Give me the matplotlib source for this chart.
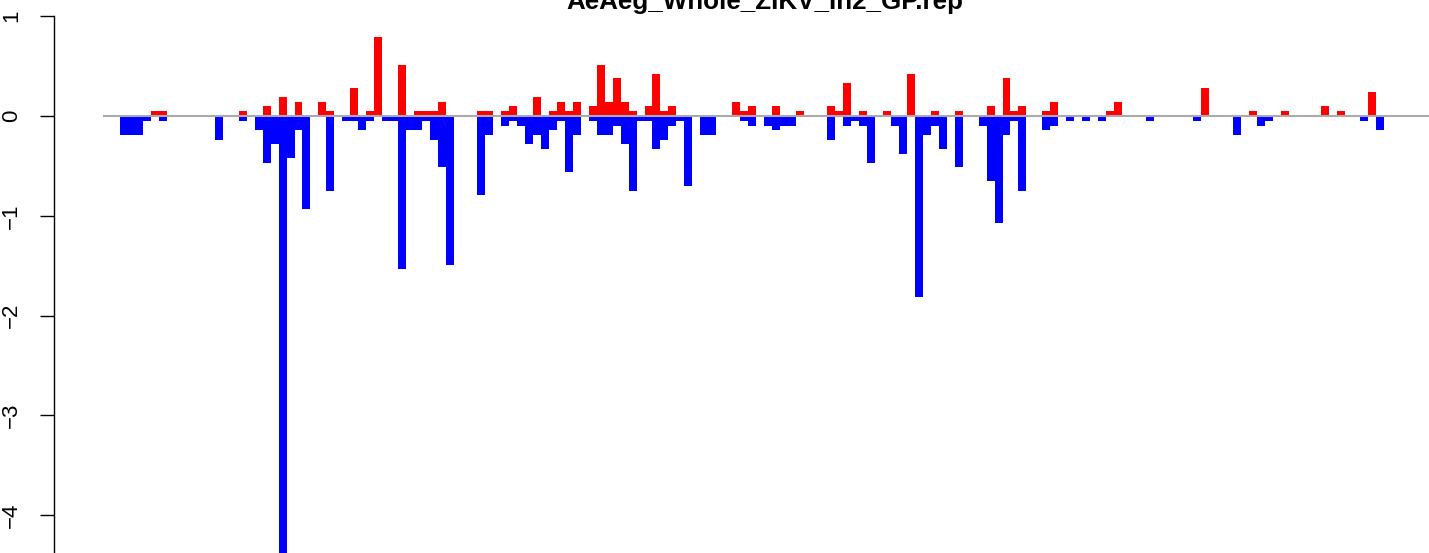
import numpy as np
import matplotlib
matplotlib.use("Agg")
import matplotlib.pyplot as plt

# ── data: one slot per position, up (red) and down (blue) ─────────────────────
title = "AeAeg_Whole_ZIKV_In2_GP.rep"

up = [
    0, 0, 0, 0, 0.05, 0.05, 0, 0, 0, 0,               # 0-9
    0, 0, 0, 0, 0, 0.05, 0, 0, 0.10, 0,               # 10-19
    0.19, 0, 0.14, 0, 0, 0.14, 0.05, 0, 0, 0.28,      # 20-29
    0, 0.05, 0.79, 0, 0, 0.51, 0, 0.05, 0.05, 0.05,   # 30-39
    0.14, 0, 0, 0, 0, 0.05, 0.05, 0, 0.05, 0.10,      # 40-49
    0, 0, 0.19, 0, 0.05, 0.14, 0.05, 0.14, 0, 0.10,   # 50-59
    0.51, 0.14, 0.38, 0.14, 0.05, 0, 0.10, 0.42, 0.05, 0.10,  # 60-69
    0, 0, 0, 0, 0, 0, 0, 0.14, 0.05, 0.10,            # 70-79
    0, 0, 0.10, 0, 0, 0.05, 0, 0, 0, 0.10,            # 80-89
    0.05, 0.33, 0, 0.05, 0, 0, 0.05, 0, 0, 0.42,      # 90-99
    0, 0, 0.05, 0, 0, 0.05, 0, 0, 0, 0.10,            # 100-109
    0, 0.38, 0.05, 0.10, 0, 0, 0.05, 0.14, 0, 0,      # 110-119
    0, 0, 0, 0, 0.05, 0.14, 0, 0, 0, 0,               # 120-129
    0, 0, 0, 0, 0, 0, 0.28, 0, 0, 0,                  # 130-139
    0, 0, 0.05, 0, 0, 0, 0.05, 0, 0, 0,               # 140-149
    0, 0.10, 0, 0.05, 0, 0, 0, 0.24, 0,               # 150-158
]

down = [
    -0.19, -0.19, -0.19, -0.05, 0, -0.05, 0, 0, 0, 0,                 # 0-9
    0, 0, -0.24, 0, 0, -0.05, 0, -0.14, -0.47, -0.28,                 # 10-19
    -4.40, -0.42, -0.14, -0.93, 0, 0, -0.75, 0, -0.05, -0.05,         # 20-29
    -0.14, -0.05, 0, -0.05, -0.05, -1.53, -0.14, -0.14, -0.05, -0.24, # 30-39
    -0.51, -1.49, 0, 0, 0, -0.79, -0.19, 0, -0.10, -0.05,             # 40-49
    -0.10, -0.28, -0.19, -0.33, -0.14, -0.05, -0.56, -0.19, 0, -0.05, # 50-59
    -0.19, -0.19, -0.10, -0.28, -0.75, -0.05, -0.05, -0.33, -0.24, -0.10,  # 60-69
    -0.05, -0.70, 0, -0.19, -0.19, 0, 0, 0, -0.05, -0.10,             # 70-79
    0, -0.10, -0.14, -0.10, -0.10, 0, 0, 0, 0, -0.24,                 # 80-89
    0, -0.10, -0.05, -0.10, -0.47, 0, 0, -0.10, -0.38, 0,             # 90-99
    -1.81, -0.19, -0.10, -0.33, 0, -0.51, 0, 0, -0.10, -0.65,         # 100-109
    -1.07, -0.19, -0.05, -0.75, 0, 0, -0.14, -0.10, 0, -0.05,         # 110-119
    0, -0.05, 0, -0.05, 0, 0, 0, 0, 0, -0.05,                         # 120-129
    0, 0, 0, 0, 0, -0.05, 0, 0, 0, 0,                                 # 130-139
    -0.19, 0, 0, -0.10, -0.05, 0, 0, 0, 0, 0,                         # 140-149
    0, 0, 0, 0, 0, 0, -0.05, 0, -0.14,                                # 150-158
]

yticks = [1, 0, -1, -2, -3, -4]

# ── figure ────────────────────────────────────────────────────────────────────
W, H = 1429, 553
fig = plt.figure(figsize=(W / 100, H / 100), dpi=100)
# plot region runs past the right edge of the picture (cropped R plot)
ax = fig.add_axes([54 / W, 0, (1472 - 54) / W, 1])

x = np.arange(len(up))
ax.bar(x, up, width=1, align="edge", color="red", linewidth=0, zorder=2)
ax.bar(x, down, width=1, align="edge", color="blue", linewidth=0, zorder=2)
ax.hlines(0, -2.04, 175, color="#aaaaaa", linewidth=1.5, zorder=3)

slot = 7.955  # px per bar
ax.set_xlim((54 - 119.5) / slot, (1472 - 119.5) / slot)
ax.set_ylim(-(H - 116) / 99.8, 116 / 99.8)

for s in ["top", "right", "bottom"]:
    ax.spines[s].set_visible(False)
ax.spines["left"].set_bounds(-5, 1)
ax.spines["left"].set_linewidth(1)
ax.set_xticks([])
ax.set_yticks(yticks)
ax.set_yticklabels([str(t).replace("-", "\u2212") for t in yticks],
                   rotation=90, va="center", fontsize=16, family="Liberation Sans")
ax.tick_params(axis="y", length=10, width=1, pad=13)

fig.text(765 / W, 1 - 9 / H, title, ha="center", va="baseline",
         fontsize=18.7, fontweight="bold", family="Liberation Sans")

fig.savefig("out.png", dpi=100)
